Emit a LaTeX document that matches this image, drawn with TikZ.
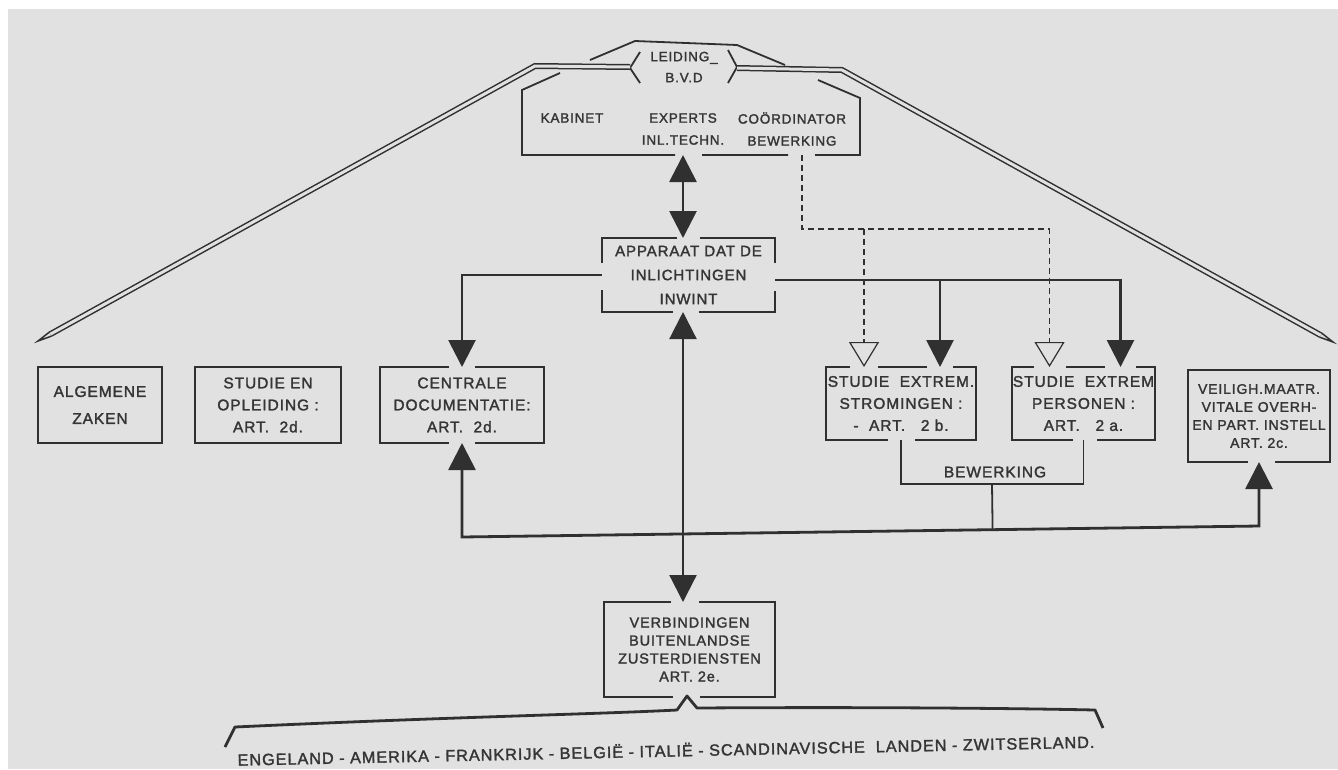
\documentclass[tikz,border=0pt]{standalone}
\usepackage{graphicx}
\usepackage{fontspec}
\setmainfont{Liberation Sans}[LetterSpace=6, FakeBold=1.8]
\usetikzlibrary{arrows.meta,calc}
\definecolor{paper}{HTML}{E1E1E1}
\definecolor{ink}{HTML}{303030}
\definecolor{txtc}{HTML}{353535}
\tikzset{
  bt/.tip={Triangle[width=27pt,length=27pt]},
  ot/.tip={Triangle[open,width=30pt,length=25pt]},
}
\begin{document}
\begin{tikzpicture}[x=1pt,y=-1pt,
  bl/.style={draw=ink, line width=1.8pt},
  conn/.style={draw=ink, line width=2.8pt},
  thinline/.style={draw=ink, line width=1.8pt},
  dsh/.style={draw=ink, line width=1.2pt, dash pattern=on 6pt off 4pt},
  roof/.style={draw=ink, line width=1.5pt, double=paper, double distance=3pt},
  lab/.style={text=txtc, align=center, inner sep=0pt, outer sep=0pt},
  fa/.style={font=\fontsize{15.5}{22}\selectfont},
  fb/.style={font=\fontsize{14}{18}\selectfont},
  fc/.style={font=\fontsize{13.5}{22}\selectfont},
  fd/.style={font=\fontsize{14.5}{18}\selectfont},
  fe/.style={font=\fontsize{15}{24}\selectfont},
]
\useasboundingbox (0,0) rectangle (1338,769);
\fill[white] (0,0) rectangle (1338,769);
\fill[paper] (8,9) rectangle (1338,769);

% ---------- nodes ----------
\node[lab, minimum width=338pt, minimum height=82pt] (top) at (691,114) {};
\node[lab, font=\fontsize{13.5}{21}\selectfont] (leid) at (684,67) {LEIDING\_\\B.V.D};
\node[lab, fc] (kab) at (572,118) {KABINET};
\node[lab, fc] (exp) at (683,129) {EXPERTS\\INL.TECHN.};
\node[lab, fc] (coo) at (792,129) {COÖRDINATOR\\BEWERKING};

\node[lab, fe, minimum width=173pt, minimum height=74pt] (ap) at (688.5,275)
  {APPARAAT DAT DE\\INLICHTINGEN\\INWINT};

\node[lab, fa, minimum width=124pt, minimum height=76pt] (az) at (100,405) {ALGEMENE\\[5pt]ZAKEN};
\node[lab, fa, minimum width=146pt, minimum height=76pt] (so) at (268,405) {STUDIE EN\\OPLEIDING :\\ART.\ \ 2d.};
\node[lab, fa, minimum width=164pt, minimum height=76pt] (cd) at (462,405) {CENTRALE\\DOCUMENTATIE:\\ART.\ \ 2d.};
\node[lab, fa, minimum width=150pt, minimum height=73pt] (ss) at (901,403.5) {STUDIE\ \ EXTREM.\\STROMINGEN :\\-\ \ ART.\ \ \ 2 b.};
\node[lab, fa, minimum width=143pt, minimum height=73pt] (sp) at (1083.5,403.5) {STUDIE\ \ EXTREM\\PERSONEN :\\ART.\ \ \ 2 a.};
\node[lab, fb, minimum width=142pt, minimum height=92pt] (vl) at (1259,416) {VEILIGH.MAATR.\\VITALE OVERH-\\EN PART. INSTELL\\ART. 2c.};
\node[lab, fa] (bw) at (995,472) {BEWERKING};

\node[lab, fd, minimum width=171pt, minimum height=95pt] (vb) at (689.5,649.5)
  {VERBINDINGEN\\BUITENLANDSE\\ZUSTERDIENSTEN\\ART. 2e.};

\node[lab, rotate=1.2] (ctry) at (666,750) {\resizebox{857pt}{!}{\fontsize{13}{13}\selectfont ENGELAND - AMERIKA - FRANKRIJK - BELGIË - ITALIË - SCANDINAVISCHE\ \ LANDEN - ZWITSERLAND.}};

% ---------- helper coordinates ----------
\coordinate (ax) at (683,0);
\coordinate (dj) at (802,229);
\coordinate (ssO) at ($(ss.north)+(-37,0)$);
\coordinate (ssB) at ($(ss.north)+(39,0)$);
\coordinate (spO) at ($(sp.north)+(-34,0)$);
\coordinate (spB) at ($(sp.north)+(37,0)$);
\coordinate (rj) at ($(ap.east)+(0,5)$);

% ---------- outlines ----------
\draw[thinline] (590,60) -- (635,41) -- (737,45) -- (785,65);
\draw[thinline] (640,52) -- (630,68) -- (640,83);
\draw[thinline] (728,50) -- (737,67) -- (728,83);
\draw[bl] ($(top.north west)+(38,0)$) -- ($(top.north west)+(0,17)$) -- (top.south west) -- ($(top.south -| ax)+(-8,0)$)
          ($(top.south -| ax)+(19,0)$) -- ($(top.south -| dj)+(-14,0)$)
          ($(top.south -| dj)+(13,0)$) -- (top.south east) -- ($(top.north east)+(0,25)$) -- ($(top.north east)+(-42,7)$);
\draw[bl] ($(ap.north -| ax)+(-6,0)$) -- (ap.north west) -- ($(ap.north west)+(0,25)$)
          ($(ap.south west)+(0,-22)$) -- (ap.south west) -- ($(ap.south -| ax)+(-10,0)$)
          ($(ap.south -| ax)+(16,0)$) -- (ap.south east) -- ($(ap.south east)+(0,-21)$)
          ($(ap.north east)+(0,25)$) -- (ap.north east) -- ($(ap.north -| ax)+(17,0)$);
\draw[bl] (az.north west) rectangle (az.south east);
\draw[bl] (so.north west) rectangle (so.south east);
\draw[bl] ($(cd.north)+(-13,0)$) -- (cd.north west) -- (cd.south west) -- ($(cd.south)+(-13,0)$)
          ($(cd.south)+(13,0)$) -- (cd.south east) -- (cd.north east) -- ($(cd.north)+(13,0)$);
\draw[bl] ($(ss.south)+(-13,0)$) -- (ss.south west) -- (ss.north west) -- ($(ss.north)+(-51,0)$)
          ($(ss.north)+(-23,0)$) -- ($(ss.north)+(26,0)$)
          ($(ss.north)+(52,0)$) -- (ss.north east) -- (ss.south east) -- ($(ss.south)+(14,0)$);
\draw[bl] ($(sp.south)+(-11,0)$) -- (sp.south west) -- (sp.north west) -- ($(sp.north)+(-50,0)$)
          ($(sp.north)+(-18,0)$) -- ($(sp.north)+(21,0)$)
          ($(sp.north)+(52,0)$) -- (sp.north east) -- (sp.south east) -- ($(sp.south)+(13,0)$);
\draw[bl] ($(vl.south)+(-11,0)$) -- (vl.south west) -- (vl.north west) -- (vl.north east) -- (vl.south east) -- ($(vl.south)+(16,0)$);
\draw[bl] ($(vb.north -| ax)+(-12,0)$) -- (vb.north west) -- (vb.south west) -- ($(vb.south -| ax)+(-10,0)$)
          ($(vb.south -| ax)+(17,0)$) -- (vb.south east) -- (vb.north east) -- ($(vb.north -| ax)+(16,0)$);

% ---------- big roof ----------
\coordinate (LB) at (630,67); \coordinate (LC) at (535,66); \coordinate (LT) at (38,341);
\coordinate (LE) at ($(LT)!14pt!(LC)$);
\draw[roof] (LB) -- (LC) -- (LE);
\draw[ink, line width=1.5pt] ($(LE)!2.25pt!90:(LC)$) -- (LT) -- ($(LE)!2.25pt!-90:(LC)$);
\coordinate (RB) at (737,68); \coordinate (RC) at (842,70); \coordinate (RT) at (1333,342);
\coordinate (RE) at ($(RT)!14pt!(RC)$);
\draw[roof] (RB) -- (RC) -- (RE);
\draw[ink, line width=1.5pt] ($(RE)!2.25pt!90:(RC)$) -- (RT) -- ($(RE)!2.25pt!-90:(RC)$);

% ---------- connectors ----------
\draw[conn, {bt}-{bt}] (top.south -| ax) -- (ap.north -| ax);
\draw[conn, line width=2.2pt, {bt}-{bt}] (ap.south -| ax) -- (vb.north -| ax);
\draw[conn, -{bt}] (ap.west) -| (cd.north);
\draw[conn, -{bt}] (rj) -| (spB);
\draw[conn, -{bt}] (ssB |- rj) -- (ssB);
\draw[dsh, -{ot}] (top.south -| dj) -- (dj) -| (spO);
\draw[dsh, -{ot}] (ssO |- dj) -- (ssO);
\draw[thinline] (ss.south) -- ++(0,44) coordinate (bwl) -| (sp.south);
\coordinate (bwm) at ($(bwl)+(91,0)$);
\coordinate (cdb) at ($(cd.south)+(0,94)$);
\coordinate (vlb) at ($(vl.south)+(0,64)$);
\draw[conn, line join=miter, {bt}-{bt}] (cd.south) -- (cdb) -- (vlb) -- (vl.south);
\draw[thinline] (bwm) -- ($(cdb)!(bwm)!(vlb)$);

% ---------- brace ----------
\draw[ink, line width=2.8pt, line join=round]
  (225,747) -- (235,727) .. controls (450,717) and (600,714) .. (677,710)
  -- (687,696) -- (697,708) .. controls (850,707) and (1000,708) .. (1095,710) -- (1103,728);
\end{tikzpicture}
\end{document}
